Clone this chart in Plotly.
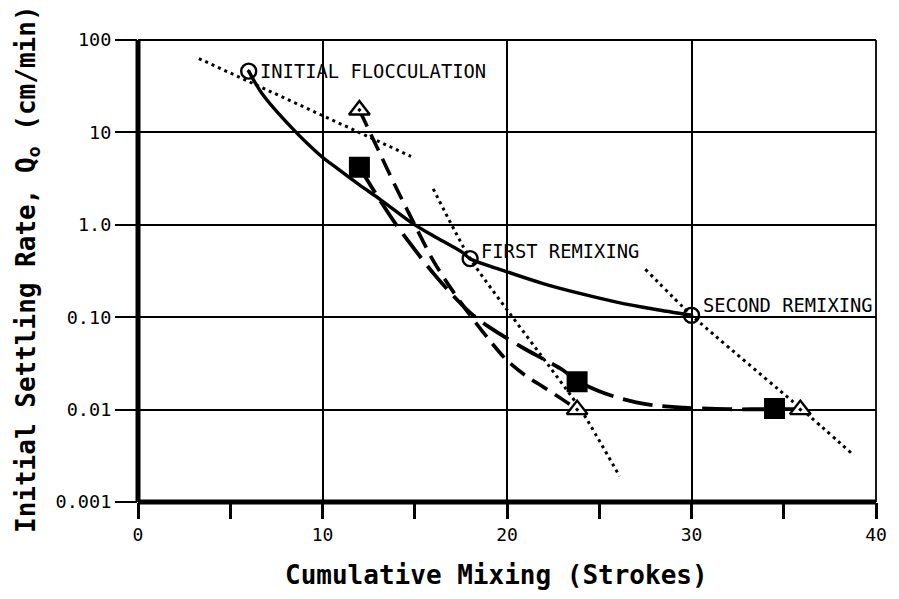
import numpy as np
import plotly.graph_objects as go

# ---- data (cumulative strokes vs. initial settling rate, cm/min) ----
stage_names = ["INITIAL FLOCCULATION", "FIRST REMIXING", "SECOND REMIXING"]
stage_strokes = [6, 18, 30]
stage_rate = [46, 0.43, 0.105]

square_strokes = [12, 23.8, 34.5]
square_rate = [4.2, 0.02, 0.0103]

triangle_strokes = [12, 23.8, 35.9]
triangle_rate = [17.5, 0.01, 0.01]

# smooth curve through the mixing-stage points
stage_curve_x = [6, 6.7, 8.3, 9.9, 10.8, 12, 13.1, 14.9, 16, 17.6, 18, 20, 22, 24, 26, 28, 30]
stage_curve_y = [46, 26.7, 11.4, 5.6, 4.07, 2.7, 1.9, 1.03, 0.76, 0.50, 0.43, 0.31, 0.23, 0.18, 0.145, 0.122, 0.105]

# long-dash curve through the filled squares
square_curve_x = [12, 13, 14, 15, 16, 17, 18, 19, 20, 21, 22, 23, 23.8, 25, 26, 27, 28, 30, 32, 34.5, 35.6]
square_curve_y = [4.2, 2.0, 1.0, 0.54, 0.30, 0.178, 0.112, 0.079, 0.059, 0.045, 0.035, 0.027, 0.0204,
                  0.0158, 0.0135, 0.012, 0.0111, 0.0104, 0.0101, 0.0101, 0.0101]

# dashed curve through the open triangles
triangle_curve_x = [12, 13, 14, 15, 16, 17, 18, 19, 20, 21, 22, 23, 23.8]
triangle_curve_y = [17.5, 6.6, 2.5, 1.0, 0.41, 0.20, 0.105, 0.058, 0.034, 0.0234, 0.0174, 0.0129, 0.01]

# dotted guide lines through each mixing stage
guide1_x = [3.3, 14.8]
guide1_y = [63, 5.5]
guide2_x = [16.0, 18, 24, 26.1]
guide2_y = [2.45, 0.43, 0.01, 0.0019]
guide3_x = [27.5, 30, 36, 38.8]
guide3_y = [0.33, 0.105, 0.01, 0.0032]

x_ticks = [0, 10, 20, 30, 40]
y_ticks = [0.001, 0.01, 0.1, 1, 10, 100]
y_tick_text = ["0.001", "0.01", "0.10", "1.0", "10", "100"]

MONO = "DejaVu Sans Mono"

fig = go.Figure()

dot_style = dict(color="black", width=3, dash="3px,4px")
for gx, gy in [(guide1_x, guide1_y), (guide2_x, guide2_y), (guide3_x, guide3_y)]:
    fig.add_trace(go.Scatter(x=gx, y=gy, mode="lines", line=dict(shape="spline", smoothing=0.5, **dot_style),
                             hoverinfo="skip", showlegend=False))

fig.add_trace(go.Scatter(x=stage_curve_x, y=stage_curve_y, mode="lines",
                         line=dict(color="black", width=3.4, shape="spline", smoothing=0.8),
                         showlegend=False))
fig.add_trace(go.Scatter(x=square_curve_x, y=square_curve_y, mode="lines",
                         line=dict(color="black", width=3.8, dash="30px,10px", shape="spline", smoothing=0.8),
                         showlegend=False))
fig.add_trace(go.Scatter(x=triangle_curve_x, y=triangle_curve_y, mode="lines",
                         line=dict(color="black", width=3.6, dash="18px,9px", shape="spline", smoothing=0.8),
                         showlegend=False))

fig.add_trace(go.Scatter(x=square_strokes, y=square_rate, mode="markers",
                         marker=dict(symbol="square", size=19, color="black",
                                     line=dict(color="black", width=2)),
                         showlegend=False))
fig.add_trace(go.Scatter(x=triangle_strokes, y=triangle_rate, mode="markers",
                         marker=dict(symbol="triangle-up-dot", size=18, color="white",
                                     line=dict(color="black", width=2.4)),
                         showlegend=False))
fig.add_trace(go.Scatter(x=stage_strokes, y=stage_rate, mode="markers",
                         marker=dict(symbol="circle-open-dot", size=15, color="black",
                                     line=dict(color="black", width=2.4)),
                         showlegend=False))

# stage labels to the right of each circle
label_yshift = [0, 7, 10]
for name, sx, sy, dy in zip(stage_names, stage_strokes, stage_rate, label_yshift):
    fig.add_annotation(x=sx, y=np.log10(sy), text=name, showarrow=False,
                       xanchor="left", yanchor="middle", xshift=9, yshift=dy,
                       font=dict(family=MONO, size=18.8, color="black"))

# axis titles
fig.add_annotation(xref="paper", yref="paper", x=0.486, y=-0.158, yanchor="middle",
                   text="<b>Cumulative Mixing (Strokes)</b>", showarrow=False,
                   font=dict(family=MONO, size=26, color="black"))
fig.add_annotation(xref="paper", yref="paper", x=-0.15, y=0.505, xanchor="center", yanchor="middle",
                   text="<b>Initial Settling Rate, Q<sub>o</sub> (cm/min)</b>", showarrow=False,
                   textangle=-90, font=dict(family=MONO, size=26, color="black"))

# frame: heavy left/bottom axes, light top/right border
frame = [
    (0, 0, 0, 1, 5),
    (0, 0, 1, 0, 5),
    (0, 1, 1, 1, 1.8),
    (1, 0, 1, 1, 1.8),
]
for x0, y0, x1, y1, w in frame:
    fig.add_shape(type="line", xref="paper", yref="paper", x0=x0, y0=y0, x1=x1, y1=y1,
                  line=dict(color="black", width=w), layer="above")

fig.update_xaxes(range=[0, 40], tickvals=x_ticks, ticks="outside", ticklen=16, tickwidth=3,
                 tickcolor="black", showgrid=True, gridcolor="black", gridwidth=1.8,
                 zeroline=False, showline=False,
                 minor=dict(dtick=5, tick0=0, ticks="outside", ticklen=16, tickwidth=3,
                            tickcolor="black", showgrid=False),
                 tickfont=dict(family=MONO, size=18, color="black"))
fig.update_yaxes(type="log", range=[-3, 2], tickvals=y_ticks, ticktext=y_tick_text,
                 ticks="outside", ticklen=22, tickwidth=1.5, tickcolor="black",
                 showgrid=True, gridcolor="black", gridwidth=1.6,
                 zeroline=False, showline=False,
                 tickfont=dict(family=MONO, size=18.5, color="black"))

fig.update_layout(width=899, height=599, margin=dict(l=138, r=14, t=40, b=97),
                  paper_bgcolor="white", plot_bgcolor="white", showlegend=False)

fig.write_html("out.html")
